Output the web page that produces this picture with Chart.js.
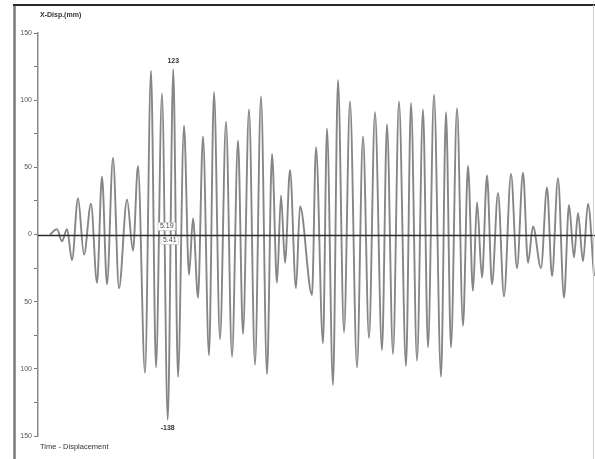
<!DOCTYPE html>
<html>
<head>
<meta charset="utf-8">
<script src="https://cdn.jsdelivr.net/npm/chart.js@4.4.0/dist/chart.umd.min.js"></script>
<style>
  body { margin: 0; background: #fff; }
  #grafico { display: block; }
</style>
</head>
<body>
<canvas id="grafico" width="595" height="459"></canvas>
<script>
var tiempos = [0.48, 0.76, 0.96, 1.16, 1.36, 1.60, 1.84, 2.12, 2.36, 2.56, 2.76, 3.00, 3.24, 3.56, 3.80, 4.00,
  4.28, 4.52, 4.72, 4.96, 5.19, 5.41, 5.60, 5.84, 6.04, 6.20, 6.40, 6.60, 6.84, 7.04, 7.28, 7.52, 7.76, 8.00,
  8.20, 8.44, 8.68, 8.92, 9.16, 9.36, 9.56, 9.72, 9.88, 10.08, 10.32, 10.48, 10.96, 11.12, 11.40, 11.56, 11.80,
  12.00, 12.24, 12.48, 12.76, 13.00, 13.24, 13.48, 13.76, 13.96, 14.20, 14.44, 14.72, 14.92, 15.16, 15.40, 15.60,
  15.84, 16.12, 16.32, 16.52, 16.76, 17.00, 17.20, 17.40, 17.56, 17.76, 17.96, 18.16, 18.40, 18.64, 18.92, 19.16,
  19.40, 19.60, 19.80, 20.12, 20.36, 20.56, 20.80, 21.04, 21.24, 21.44, 21.60, 21.80, 22.00, 22.24];
var desplazamientos = [0, 4, -5, 4, -19, 27, -15, 23, -36, 43, -37, 57, -40, 26, -12, 51,
  -103, 122, -99, 105, -138, 123, -106, 81, -30, 12, -47, 73, -90, 106, -78, 84, -91, 70,
  -74, 93, -97, 103, -104, 60, -36, 29, -21, 48, -40, 21, -45, 65, -81, 79, -112,
  115, -73, 99, -99, 73, -77, 91, -86, 82, -89, 99, -98, 98, -94, 93, -84,
  104, -106, 91, -84, 94, -68, 51, -42, 24, -32, 44, -37, 31, -46, 45, -25,
  46, -21, 6, -25, 35, -31, 42, -47, 22, -17, 16, -20, 23, -31];
var yMin = -150, yMax = 150, yPaso = 25;
var tMax = 22.28;
var etiquetaMax = "123", etiquetaMin = "-138";
var etiquetaT1 = "5.19", etiquetaT2 = "5.41";

var puntos = [];
for (var i = 0; i < tiempos.length; i++) {
  puntos.push({ x: tiempos[i], y: desplazamientos[i] });
}

// marco, titulos y etiquetas de picos
var marcoPlugin = {
  id: 'marco',
  afterDatasetsDraw: function(chart) {
    // linea de cero encima de la curva
    var ctx = chart.ctx, a = chart.chartArea;
    var y0 = Math.round(chart.scales.y.getPixelForValue(0)) + 0.5;
    ctx.save();
    ctx.strokeStyle = '#2b2b2b';
    ctx.lineWidth = 1.6;
    ctx.beginPath(); ctx.moveTo(a.left, y0); ctx.lineTo(a.right, y0); ctx.stroke();
    ctx.restore();
  },
  afterDraw: function(chart) {
    var ctx = chart.ctx;
    var sx = chart.scales.x, sy = chart.scales.y;
    ctx.save();
    ctx.strokeStyle = '#7a7a7a';
    ctx.lineWidth = 2.5;
    ctx.beginPath(); ctx.moveTo(14.5, 4); ctx.lineTo(14.5, 459); ctx.stroke();
    ctx.strokeStyle = '#2a2a2a';
    ctx.lineWidth = 2;
    ctx.beginPath(); ctx.moveTo(13, 5); ctx.lineTo(595, 5); ctx.stroke();
    ctx.strokeStyle = '#cfcfcf';
    ctx.lineWidth = 1;
    ctx.beginPath(); ctx.moveTo(593.5, 5); ctx.lineTo(593.5, 459); ctx.stroke();

    ctx.fillStyle = '#333';
    ctx.textAlign = 'left';
    ctx.textBaseline = 'middle';
    ctx.font = 'bold 7px "Liberation Sans", Arial, sans-serif';
    ctx.fillText('X-Disp.(mm)', 40, 15);
    ctx.font = '7.5px "Liberation Sans", Arial, sans-serif';
    ctx.fillText('Time - Displacement', 40, 447);

    // picos maximo y minimo
    var iMax = 0, iMin = 0;
    for (var k = 0; k < desplazamientos.length; k++) {
      if (desplazamientos[k] > desplazamientos[iMax]) iMax = k;
      if (desplazamientos[k] < desplazamientos[iMin]) iMin = k;
    }
    ctx.textAlign = 'center';
    ctx.font = 'bold 7px "Liberation Sans", Arial, sans-serif';
    ctx.fillText(etiquetaMax, sx.getPixelForValue(tiempos[iMax]), sy.getPixelForValue(desplazamientos[iMax]) - 8);
    ctx.fillText(etiquetaMin, sx.getPixelForValue(tiempos[iMin]), sy.getPixelForValue(desplazamientos[iMin]) + 8);

    var cx = sx.getPixelForValue(tiempos[iMin]);
    var y0 = sy.getPixelForValue(0);
    ctx.font = '7px "Liberation Sans", Arial, sans-serif';
    cajita(ctx, etiquetaT1, cx - 1, y0 - 8);
    cajita(ctx, etiquetaT2, cx + 2, y0 + 6);
    ctx.restore();
  }
};

function cajita(ctx, texto, x, y) {
  var w = ctx.measureText(texto).width + 4;
  ctx.fillStyle = '#fff';
  ctx.fillRect(x - w / 2, y - 4, w, 8);
  ctx.strokeStyle = '#bbb';
  ctx.lineWidth = 0.6;
  ctx.strokeRect(x - w / 2, y - 4, w, 8);
  ctx.fillStyle = '#444';
  ctx.fillText(texto, x, y);
}

new Chart(document.getElementById('grafico'), {
  type: 'line',
  data: {
    datasets: [{
      data: puntos,
      borderColor: '#868686',
      borderWidth: 1.9,
      pointRadius: 0,
      fill: false,
      cubicInterpolationMode: 'monotone'
    }]
  },
  options: {
    responsive: false,
    animation: false,
    devicePixelRatio: 1,
    layout: { padding: { left: 0, right: 0, top: 33, bottom: 23 } },
    plugins: { legend: { display: false }, tooltip: { enabled: false } },
    scales: {
      x: { type: 'linear', display: false, min: 0, max: tMax },
      y: {
        min: yMin,
        max: yMax,
        afterFit: function(scale) { scale.width = 38; },
        border: { color: '#8a8a8a', width: 1.5 },
        grid: {
          drawOnChartArea: false,
          tickColor: '#777',
          tickLength: 4,
          tickWidth: 1
        },
        ticks: {
          stepSize: yPaso,
          padding: 2,
          color: '#555',
          font: { size: 7, family: '"Liberation Sans", Arial, sans-serif' },
          callback: function(v) { return v % 50 === 0 ? Math.abs(v) : ''; }
        }
      }
    }
  },
  plugins: [marcoPlugin]
});
</script>
</body>
</html>
